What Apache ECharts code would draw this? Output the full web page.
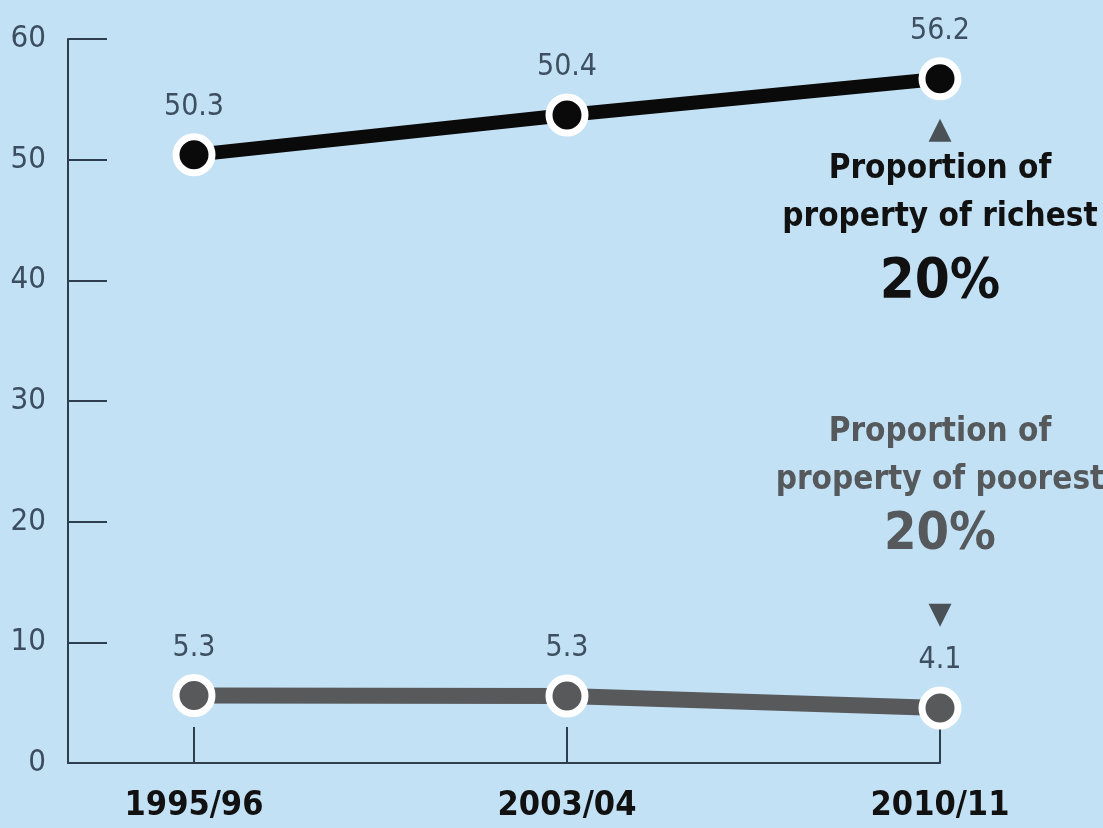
<!DOCTYPE html>
<html>
<head>
<meta charset="utf-8">
<script src="https://cdn.jsdelivr.net/npm/echarts@6/dist/echarts.min.js"></script>
<style>
  html, body { margin: 0; padding: 0; background: #c2e1f5; }
  #chart { width: 1103px; height: 828px; }
</style>
</head>
<body>
<div id="chart"></div>
<script>
// periods on the x axis
const categories = ["1995/96", "2003/04", "2010/11"];
// heights the points are drawn at, and the numbers printed over them
const richestValues = [50.4, 53.7, 56.7];
const richestLabels = ["50.3", "50.4", "56.2"];
const poorestValues = [5.6, 5.55, 4.55];
const poorestLabels = ["5.3", "5.3", "4.1"];
const yTicks = [0, 10, 20, 30, 40, 50, 60];

const narrow = "'Liberation Sans Narrow', 'DejaVu Sans Condensed', sans-serif";
const axisColor = "#2f3e4e";

let chart = echarts.init(document.getElementById("chart"));

let option = {
  animation: false,
  backgroundColor: "#c2e1f5",
  grid: {
    left: 68,
    right: 163,
    top: 39,
    bottom: 65,
  },
  xAxis: {
    type: "value",
    min: -0.3378,
    max: 2,
    splitLine: { show: false },
    axisLine: { show: true, lineStyle: { color: axisColor, width: 2 } },
    axisTick: {
      show: true,
      inside: true,
      length: 36,
      customValues: [0, 1, 2],
      lineStyle: { color: axisColor, width: 2 },
    },
    axisLabel: {
      customValues: [0, 1, 2],
      formatter: (v) => categories[Math.round(v)],
      fontFamily: narrow,
      fontWeight: "bold",
      fontSize: 34,
      color: "#111",
      margin: 26,
    },
  },
  yAxis: {
    type: "value",
    min: yTicks[0],
    max: yTicks[yTicks.length - 1],
    interval: 10,
    splitLine: { show: false },
    axisLine: { show: true, onZero: false, lineStyle: { color: axisColor, width: 2 } },
    axisTick: {
      show: true,
      inside: true,
      length: 39,
      lineStyle: { color: axisColor, width: 2 },
    },
    axisLabel: {
      fontFamily: narrow,
      fontSize: 31,
      color: "#3b4d5f",
      margin: 22,
    },
  },
  series: [
    {
      name: "richest",
      type: "line",
      data: richestValues.map((v, i) => [i, v]),
      symbol: "circle",
      symbolSize: 36,
      lineStyle: { color: "#0a0a0a", width: 14 },
      itemStyle: { color: "#0a0a0a", borderColor: "#fff", borderWidth: 7 },
      label: {
        show: true,
        position: "top",
        distance: 11,
        formatter: (p) => richestLabels[p.dataIndex],
        fontFamily: narrow,
        fontSize: 30,
        color: "#3d4f60",
      },
      markPoint: {
        symbol: "circle",
        symbolSize: 1,
        itemStyle: { color: "transparent" },
        data: [{ type: "max", valueIndex: 1 }],
        label: {
          show: true,
          position: "bottom",
          distance: 36,
          align: "center",
          formatter: "{tri|▲}\n{t|Proportion of}\n{t|property of richest}\n{big|20%}",
          rich: {
            tri: { fontSize: 30, lineHeight: 30, color: "#4a5157", fontFamily: "DejaVu Sans" },
            t: { fontSize: 33, lineHeight: 48, fontWeight: "bold", color: "#111", fontFamily: narrow },
            big: { fontSize: 56, lineHeight: 82, fontWeight: "bold", color: "#111", fontFamily: narrow },
          },
        },
      },
    },
    {
      name: "poorest",
      type: "line",
      data: poorestValues.map((v, i) => [i, v]),
      symbol: "circle",
      symbolSize: 36,
      lineStyle: { color: "#58595b", width: 16 },
      itemStyle: { color: "#58595b", borderColor: "#fff", borderWidth: 7 },
      label: {
        show: true,
        position: "top",
        distance: 11,
        formatter: (p) => poorestLabels[p.dataIndex],
        fontFamily: narrow,
        fontSize: 30,
        color: "#3d4f60",
      },
      markPoint: {
        symbol: "circle",
        symbolSize: 1,
        itemStyle: { color: "transparent" },
        data: [{ type: "min", valueIndex: 1 }],
        label: {
          show: true,
          position: "top",
          distance: 77,
          align: "center",
          formatter: "{t|Proportion of}\n{t|property of poorest}\n{big|20%}\n{gap| }\n{tri|▼}",
          rich: {
            tri: { fontSize: 30, lineHeight: 30, color: "#4a5157", fontFamily: "DejaVu Sans" },
            gap: { fontSize: 10, lineHeight: 34 },
            t: { fontSize: 33, lineHeight: 48, fontWeight: "bold", color: "#55595c", fontFamily: narrow },
            big: { fontSize: 52, lineHeight: 62, fontWeight: "bold", color: "#55595c", fontFamily: narrow },
          },
        },
      },
    },
  ],
};

chart.setOption(option);
window.addEventListener("resize", () => {
  chart.resize();
});
</script>
</body>
</html>
